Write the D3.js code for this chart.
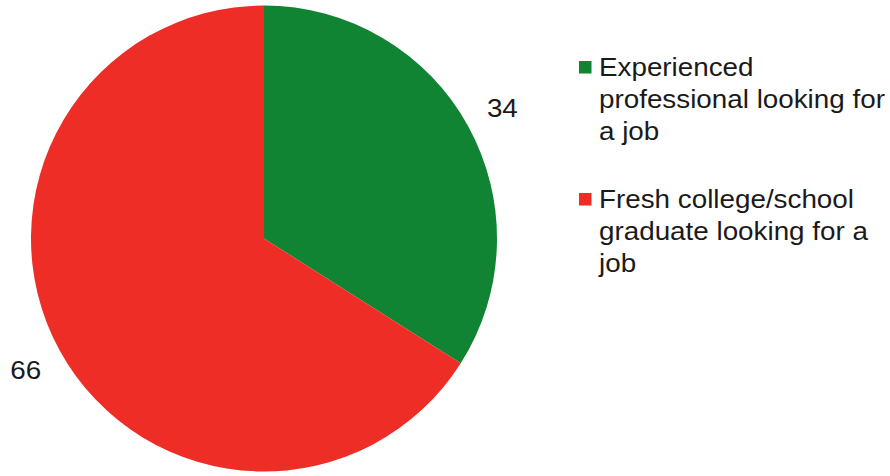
<!DOCTYPE html>
<html>
<head>
<meta charset="utf-8">
<script src="https://cdn.jsdelivr.net/npm/d3@7"></script>
<style>
  html, body { margin: 0; padding: 0; background: #fff; }
  svg { display: block; font-family: "Liberation Sans", Arial, sans-serif; }
</style>
</head>
<body>
<svg id="chart" width="890" height="476"></svg>
<script>
const categories = [
  "Experienced professional looking for a job",
  "Fresh college/school graduate looking for a job"
];
const legendLines = [
  ["Experienced", "professional looking for", "a job"],
  ["Fresh college/school", "graduate looking for a", "job"]
];
const values = [34, 66];
const colors = ["#108432", "#EE2D27"];

const svg = d3.select("#chart");
const cx = 264, cy = 238.5, radius = 233, labelRadius = 272;
const stretch = 1.07;

const pie = d3.pie().sort(null).value(d => d)(values);
const arc = d3.arc().innerRadius(0).outerRadius(radius);
const labelArc = d3.arc().innerRadius(labelRadius).outerRadius(labelRadius);

const g = svg.append("g").attr("transform", `translate(${cx},${cy})`);
g.selectAll("path").data(pie).join("path")
  .attr("d", arc)
  .attr("fill", (d, i) => colors[i]);

g.selectAll("text.val").data(pie).join("text")
  .attr("class", "val")
  .attr("transform", d => `translate(${labelArc.centroid(d)}) scale(${stretch},1)`)
  .attr("text-anchor", "middle")
  .attr("dy", "0.35em")
  .attr("font-size", 26)
  .attr("fill", "#1a1a1a")
  .text(d => d.data);

const legend = svg.append("g").attr("transform", "translate(579,0)");
const entryTop = [61, 193];
const lineH = 32;
categories.forEach((c, i) => {
  const e = legend.append("g").attr("transform", `translate(0,${entryTop[i]})`);
  e.append("rect").attr("width", 12.5).attr("height", 12.5).attr("fill", colors[i]);
  const t = e.append("text")
    .attr("transform", `translate(20,0) scale(${stretch},1)`)
    .attr("font-size", 26)
    .attr("fill", "#1a1a1a");
  legendLines[i].forEach((ln, j) => {
    t.append("tspan").attr("x", 0).attr("y", 15 + j * lineH).text(ln);
  });
});
</script>
</body>
</html>
